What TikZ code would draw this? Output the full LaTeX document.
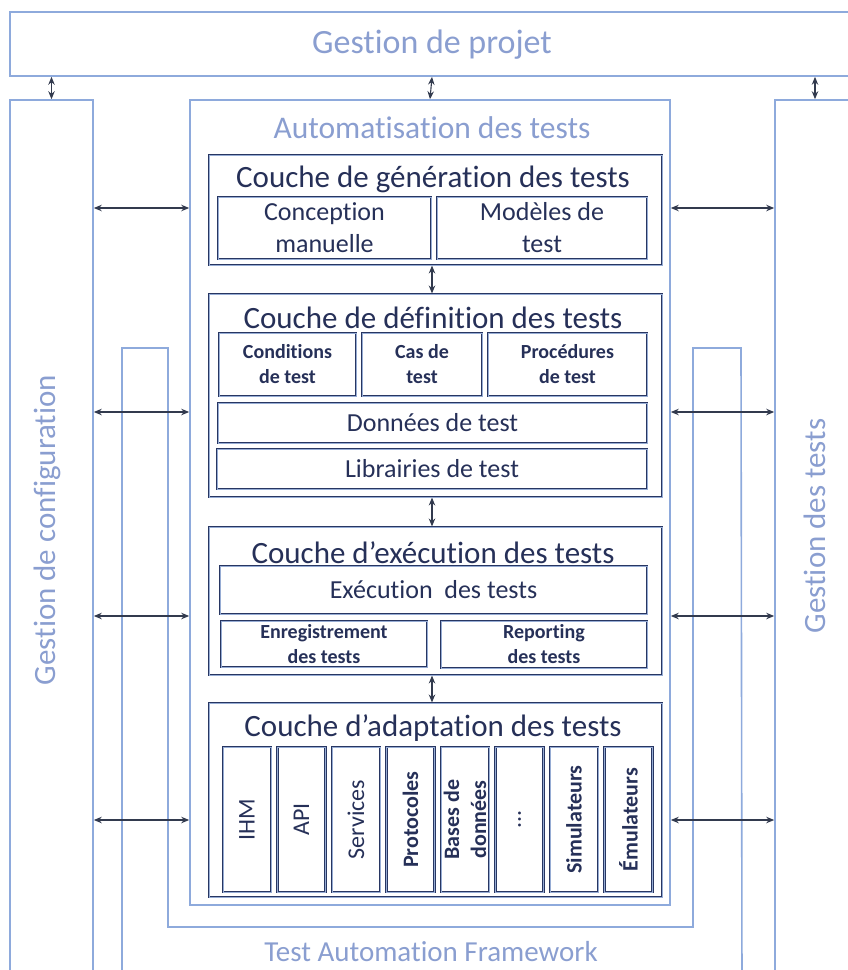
\documentclass[tikz,border=0pt]{standalone}
\usepackage{fontspec}
\setmainfont{Carlito}[Ligatures={NoCommon}]
\usetikzlibrary{arrows.meta}
\definecolor{paleline}{RGB}{142,170,220}
\definecolor{paletext}{RGB}{138,158,208}
\definecolor{navy}{RGB}{40,54,98}
\definecolor{navytext}{RGB}{38,48,88}
\definecolor{innerline}{RGB}{150,172,212}
\definecolor{arrowgrey}{RGB}{50,58,78}
\newcommand{\moredots}{...}
\pgfdeclarelayer{nodelayer}
\pgfdeclarelayer{edgelayer}
\pgfsetlayers{edgelayer,nodelayer,main}
\tikzstyle{light box}=[draw=paleline, line width=1.6pt, shape=rectangle, inner sep=0pt]
\tikzstyle{light line}=[draw=paleline, line width=1.6pt]
\tikzstyle{light label}=[text=paletext, inner sep=0pt, font=\fontsize{31}{36}\selectfont]
\tikzstyle{layer box}=[draw=navy, line width=1.1pt, double=innerline, double distance=0.6pt, shape=rectangle, inner sep=0pt]
\tikzstyle{layer title}=[text=navytext, inner sep=0pt, font=\fontsize{31}{35}\selectfont]
\tikzstyle{sub box}=[draw=navy, line width=1pt, double=innerline, double distance=0.6pt, shape=rectangle, inner sep=0pt, align=center, text=navytext, font=\fontsize{26}{32}\selectfont]
\tikzstyle{bold box}=[style=sub box, font=\bfseries\fontsize{20}{25}\selectfont]
\tikzstyle{pillar}=[style=sub box, rotate=90, minimum width=145pt, minimum height=48pt, font=\fontsize{24}{26}\selectfont]
\tikzstyle{bold pillar}=[style=pillar, font=\bfseries\fontsize{22}{27}\selectfont]
\tikzstyle{double edge}=[{Stealth[length=8pt,width=6.5pt]}-{Stealth[length=8pt,width=6.5pt]}, draw=arrowgrey, line width=1.1pt]

\begin{document}
\begin{tikzpicture}[x=1pt, y=-1pt]
	\useasboundingbox (0,0) rectangle (848,970);
	\begin{pgfonlayer}{nodelayer}
		% outer frame
		\node [style=light box, minimum width=845pt, minimum height=64pt] (0) at (432.5, 44) {};
		\node [style=light label, font=\fontsize{34}{38}\selectfont] (1) at (432, 45) {Gestion de projet};
		\node [style=light box, minimum width=83pt, minimum height=890pt] (2) at (51.5, 545) {};
		\node [style=light label, rotate=90] (3) at (47, 530) {Gestion de configuration};
		\node [style=light box, minimum width=90pt, minimum height=890pt] (4) at (820, 545) {};
		\node [style=light label, rotate=90] (5) at (815, 526) {Gestion des tests};
		\node [style=light box, minimum width=480pt, minimum height=805pt] (6) at (430, 502.5) {};
		\node [style=light label, font=\fontsize{31.5}{36}\selectfont] (7) at (432, 128) {Automatisation des tests};
		\node [style=light label, font=\fontsize{29}{34}\selectfont] (8) at (431, 952) {Test Automation Framework};

		% generation
		\node [style=layer box, minimum width=453pt, minimum height=110pt] (10) at (435.5, 210) {};
		\node [style=layer title] (11) at (433, 179) {Couche de génération des tests};
		\node [style=sub box, minimum width=213pt, minimum height=62pt] (12) at (324.5, 228) {Conception\\manuelle};
		\node [style=sub box, minimum width=210pt, minimum height=62pt] (13) at (542, 228) {Modèles de\\test};

		% definition
		\node [style=layer box, minimum width=453pt, minimum height=203pt] (20) at (435.5, 395.5) {};
		\node [style=layer title] (21) at (433, 318) {Couche de définition des tests};
		\node [style=bold box, minimum width=137pt, minimum height=63pt] (22) at (287.5, 364.5) {Conditions\\de test};
		\node [style=bold box, minimum width=120pt, minimum height=63pt] (23) at (422, 364.5) {Cas de\\test};
		\node [style=bold box, minimum width=159pt, minimum height=63pt] (24) at (567.5, 364.5) {Procédures\\de test};
		\node [style=sub box, minimum width=429pt, minimum height=40pt] (25) at (432.5, 423) {Données de test};
		\node [style=sub box, minimum width=430pt, minimum height=40pt] (26) at (432, 469) {Librairies de test};

		% execution
		\node [style=layer box, minimum width=453pt, minimum height=148pt] (30) at (435.5, 601) {};
		\node [style=layer title] (31) at (433, 553) {Couche d’exécution des tests};
		\node [style=sub box, minimum width=427pt, minimum height=48pt] (32) at (433.5, 590) {Exécution\ \ des tests};
		\node [style=bold box, minimum width=206pt, minimum height=46pt] (33) at (324, 644) {Enregistrement\\des tests};
		\node [style=bold box, minimum width=206pt, minimum height=47pt] (34) at (544, 644.5) {Reporting\\des tests};

		% adaptation
		\node [style=layer box, minimum width=453pt, minimum height=194pt] (40) at (435.5, 800) {};
		\node [style=layer title] (41) at (433, 728) {Couche d’adaptation des tests};
		\foreach \lbl/\kind [count=\i from 0] in {IHM/pillar, API/pillar, Services/pillar, Protocoles/bold pillar, {Bases de\\données}/bold pillar, \moredots/pillar, Simulateurs/bold pillar, Émulateurs/bold pillar}
			\node [style=\kind] (p\i) at (247+54.5*\i, 819.5) {\lbl};
	\end{pgfonlayer}
	\begin{pgfonlayer}{edgelayer}
		\coordinate (a) at (0, 208);
		\coordinate (b) at (0, 412);
		\coordinate (c) at (0, 616);
		\coordinate (d) at (0, 820);
		\draw [style=light line] (122, 990) -- (122, 348) -- (168, 348) -- (168, 927) -- (693, 927) -- (693, 348) -- (741, 348) -- (742, 990);
		\foreach \h in {a, b, c, d} {
			\draw [style=double edge] (2.east |- \h) to (6.west |- \h);
			\draw [style=double edge] (6.east |- \h) to (4.west |- \h);
		}
		\draw [style=double edge] (0.south -| 2) to (2.north);
		\draw [style=double edge] (0.south -| 7) to (6.north);
		\draw [style=double edge] (0.south -| 5) to (4.north -| 5);
		\draw [style=double edge] (10.south -| 7) to (20.north -| 7);
		\draw [style=double edge] (20.south -| 7) to (30.north -| 7);
		\draw [style=double edge] (30.south -| 7) to (40.north -| 7);
	\end{pgfonlayer}
\end{tikzpicture}
\end{document}
